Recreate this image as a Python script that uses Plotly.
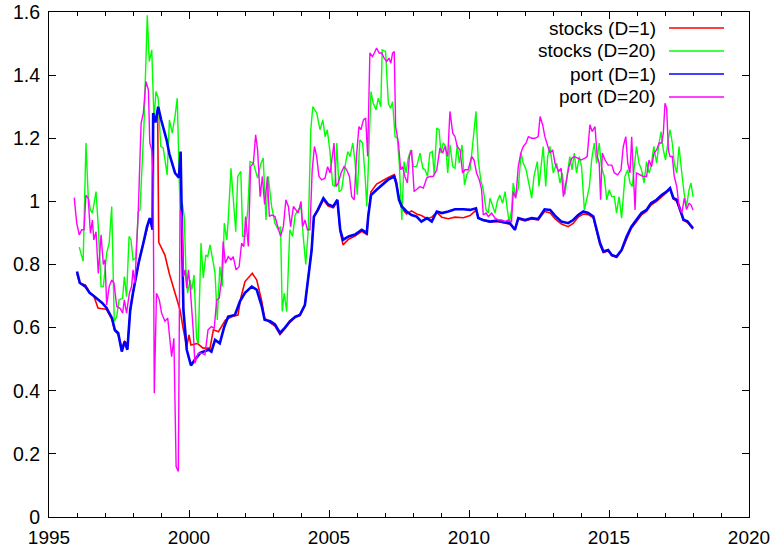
import plotly.graph_objects as go

# ---------------- data ----------------
stocks_d1_x = [1996.00, 1996.10, 1996.30, 1996.45, 1996.60, 1996.75, 1996.90, 1997.05, 1997.25, 1997.35,
               1997.47, 1997.60, 1997.70, 1997.80, 1997.90, 1998.00, 1998.20, 1998.37, 1998.50, 1998.60,
               1998.70, 1998.72, 1998.80, 1998.88, 1998.92, 1999.14, 1999.30, 1999.50, 1999.68, 1999.80,
               1999.92, 2000.00, 2000.07, 2000.30, 2000.50, 2000.75, 2000.87, 2001.05, 2001.30, 2001.55,
               2001.75, 2001.85, 2002.00, 2002.26, 2002.42, 2002.60, 2002.70, 2002.90, 2003.07, 2003.25,
               2003.43, 2003.60, 2003.80, 2003.96, 2004.14, 2004.26, 2004.38, 2004.46, 2004.60, 2004.80,
               2004.97, 2005.15, 2005.30, 2005.40, 2005.50, 2005.70, 2005.93, 2006.17, 2006.35, 2006.40,
               2006.50, 2006.70, 2006.88, 2007.10, 2007.33, 2007.40, 2007.50, 2007.60, 2007.77, 2007.95,
               2008.13, 2008.30, 2008.50, 2008.67, 2008.85, 2009.03, 2009.26, 2009.50, 2009.80, 2010.04,
               2010.25, 2010.33, 2010.50, 2010.75, 2011.00, 2011.22, 2011.46, 2011.64, 2011.76, 2012.00,
               2012.24, 2012.47, 2012.70, 2012.90, 2013.07, 2013.30, 2013.54, 2013.72, 2013.90, 2014.08,
               2014.26, 2014.44, 2014.56, 2014.68, 2014.80, 2014.97, 2015.10, 2015.27, 2015.45, 2015.63,
               2015.80, 2015.98, 2016.16, 2016.34, 2016.50, 2016.70, 2016.88, 2017.06, 2017.18, 2017.30,
               2017.42, 2017.54, 2017.66, 2017.80, 2017.90, 2018.00]
stocks_d1_y = [0.770, 0.740, 0.735, 0.712, 0.700, 0.662, 0.660, 0.658, 0.625, 0.590,
               0.578, 0.535, 0.556, 0.545, 0.650, 0.710, 0.805, 0.868, 0.920, 0.947,
               0.925, 1.270, 1.255, 1.280, 0.870, 0.830, 0.770, 0.710, 0.656, 0.593,
               0.540, 0.577, 0.545, 0.550, 0.535, 0.535, 0.593, 0.587, 0.624, 0.635,
               0.640, 0.694, 0.746, 0.772, 0.751, 0.683, 0.630, 0.615, 0.605, 0.578,
               0.596, 0.616, 0.632, 0.638, 0.670, 0.750, 0.846, 0.950, 0.970, 1.005,
               0.985, 0.980, 1.000, 0.905, 0.862, 0.880, 0.890, 0.905, 0.895, 0.955,
               1.030, 1.055, 1.065, 1.075, 1.085, 1.065, 1.010, 0.978, 0.960, 0.970,
               0.960, 0.955, 0.945, 0.950, 0.965, 0.950, 0.945, 0.950, 0.948, 0.955,
               0.972, 0.950, 0.940, 0.935, 0.936, 0.933, 0.928, 0.912, 0.944, 0.938,
               0.944, 0.941, 0.968, 0.963, 0.945, 0.928, 0.920, 0.930, 0.950, 0.960,
               0.958, 0.948, 0.905, 0.862, 0.838, 0.843, 0.828, 0.823, 0.843, 0.883,
               0.915, 0.935, 0.957, 0.968, 0.988, 1.000, 1.015, 1.027, 1.038, 1.008,
               1.000, 0.970, 0.940, 0.933, 0.922, 0.912]

stocks_d20_x = [1996.08, 1996.22, 1996.32, 1996.40, 1996.48, 1996.55, 1996.68, 1996.76, 1996.86, 1996.94,
                1997.06, 1997.15, 1997.24, 1997.33, 1997.42, 1997.50, 1997.63, 1997.69, 1997.77, 1997.86,
                1997.93, 1998.00, 1998.10, 1998.19, 1998.25, 1998.39, 1998.51, 1998.58, 1998.67, 1998.75,
                1998.82, 1998.90, 1998.99, 1999.08, 1999.22, 1999.30, 1999.40, 1999.50, 1999.58, 1999.68,
                1999.76, 1999.83, 1999.89, 1999.95, 2000.04, 2000.10, 2000.18, 2000.27, 2000.33, 2000.43,
                2000.51, 2000.60, 2000.67, 2000.75, 2000.87, 2000.93, 2001.01, 2001.10, 2001.19, 2001.26,
                2001.35, 2001.40, 2001.50, 2001.58, 2001.67, 2001.74, 2001.85, 2001.92, 2002.00, 2002.10,
                2002.18, 2002.30, 2002.45, 2002.57, 2002.65, 2002.75, 2002.83, 2002.95, 2003.07, 2003.19,
                2003.27, 2003.33, 2003.40, 2003.49, 2003.60, 2003.70, 2003.79, 2003.90, 2004.00, 2004.08,
                2004.17, 2004.26, 2004.35, 2004.42, 2004.56, 2004.68, 2004.78, 2004.86, 2004.94, 2005.04,
                2005.13, 2005.21, 2005.28, 2005.36, 2005.45, 2005.57, 2005.67, 2005.75, 2005.85, 2005.93,
                2006.01, 2006.10, 2006.20, 2006.29, 2006.35, 2006.40, 2006.50, 2006.58, 2006.68, 2006.76,
                2006.85, 2006.90, 2007.02, 2007.12, 2007.20, 2007.27, 2007.36, 2007.44, 2007.51, 2007.60,
                2007.68, 2007.75, 2007.83, 2007.92, 2008.01, 2008.13, 2008.25, 2008.35, 2008.43, 2008.52,
                2008.60, 2008.69, 2008.76, 2008.85, 2008.93, 2009.00, 2009.08, 2009.17, 2009.24, 2009.32,
                2009.42, 2009.50, 2009.58, 2009.65, 2009.75, 2009.84, 2009.94, 2010.04, 2010.13, 2010.25,
                2010.33, 2010.42, 2010.51, 2010.61, 2010.69, 2010.75, 2010.83, 2010.93, 2011.01, 2011.10,
                2011.20, 2011.29, 2011.37, 2011.44, 2011.52, 2011.58, 2011.67, 2011.76, 2011.86, 2011.94,
                2012.04, 2012.15, 2012.24, 2012.32, 2012.39, 2012.44, 2012.50, 2012.60, 2012.65, 2012.74,
                2012.81, 2012.89, 2013.01, 2013.13, 2013.25, 2013.33, 2013.43, 2013.50, 2013.60, 2013.68,
                2013.76, 2013.84, 2013.94, 2014.02, 2014.12, 2014.20, 2014.30, 2014.38, 2014.47, 2014.56,
                2014.65, 2014.73, 2014.83, 2014.92, 2015.01, 2015.10, 2015.19, 2015.27, 2015.36, 2015.45,
                2015.57, 2015.67, 2015.75, 2015.83, 2015.90, 2015.98, 2016.07, 2016.16, 2016.25, 2016.34,
                2016.43, 2016.50, 2016.60, 2016.70, 2016.79, 2016.86, 2016.94, 2017.02, 2017.10, 2017.18,
                2017.26, 2017.33, 2017.42, 2017.50, 2017.60, 2017.69, 2017.77, 2017.86, 2017.93, 2018.00]
stocks_d20_y = [0.855, 0.810, 1.185, 1.015, 0.973, 0.963, 1.031, 0.920, 0.730, 0.730,
                0.836, 0.868, 0.984, 0.620, 0.635, 0.688, 0.693, 0.762, 0.698, 0.889,
                0.878, 0.815, 0.820, 0.968, 0.973, 1.237, 1.590, 1.443, 1.480, 1.258,
                1.348, 1.327, 1.174, 1.169, 1.084, 1.258, 1.216, 1.269, 1.327, 0.973,
                0.994, 0.952, 0.783, 0.709, 0.751, 0.720, 0.767, 0.566, 0.550, 0.868,
                0.757, 0.830, 0.825, 0.862, 0.804, 0.772, 0.624, 0.793, 0.730, 0.931,
                0.878, 0.941, 1.105, 1.015, 0.904, 1.079, 1.095, 0.889, 0.889, 0.973,
                1.126, 1.121, 1.074, 1.121, 1.137, 0.941, 1.079, 0.984, 0.931, 0.910,
                0.920, 0.651, 0.709, 0.651, 0.910, 0.889, 0.957, 0.973, 0.984, 0.889,
                0.800, 0.910, 1.227, 1.300, 1.280, 1.227, 1.258, 1.205, 1.227, 1.153,
                1.052, 1.047, 1.185, 1.031, 1.037, 1.110, 1.158, 1.142, 1.185, 1.126,
                1.021, 1.195, 1.185, 1.079, 0.984, 1.100, 1.348, 1.311, 1.290, 1.327,
                1.300, 1.480, 1.475, 1.311, 1.295, 1.316, 1.205, 1.200, 1.121, 0.941,
                1.126, 1.090, 1.137, 1.163, 1.110, 1.110, 1.153, 1.105, 1.100, 1.079,
                1.153, 1.158, 1.084, 1.232, 1.227, 1.153, 1.185, 1.174, 1.090, 1.179,
                1.110, 1.105, 1.179, 1.121, 1.179, 1.052, 1.090, 1.100, 1.174, 1.285,
                1.131, 1.068, 1.037, 0.973, 0.963, 1.010, 0.990, 0.963, 1.000, 1.020,
                0.994, 1.031, 0.973, 0.931, 0.973, 1.058, 1.015, 1.042, 1.153, 1.121,
                1.100, 1.047, 1.010, 1.079, 1.110, 1.126, 1.047, 1.126, 1.174, 1.047,
                1.142, 1.174, 1.090, 1.121, 1.058, 1.090, 1.021, 1.079, 1.142, 1.100,
                1.153, 1.090, 1.142, 1.110, 0.973, 1.005, 1.047, 1.131, 1.185, 1.121,
                1.185, 1.110, 1.079, 1.005, 1.037, 1.015, 1.015, 0.963, 1.015, 0.947,
                1.079, 1.100, 1.058, 1.047, 1.100, 1.174, 1.121, 1.100, 1.058, 1.126,
                1.090, 1.110, 1.174, 1.121, 1.185, 1.221, 1.163, 1.131, 1.185, 1.227,
                1.185, 1.121, 1.090, 1.174, 1.090, 1.021, 0.984, 1.037, 1.058, 1.015]

port_d1_x = [1996.00, 1996.10, 1996.30, 1996.45, 1996.60, 1996.90, 1997.05, 1997.25, 1997.35, 1997.47,
             1997.60, 1997.70, 1997.80, 1997.90, 1998.00, 1998.20, 1998.37, 1998.50, 1998.60, 1998.70,
             1998.72, 1998.80, 1998.90, 1999.00, 1999.20, 1999.30, 1999.50, 1999.64, 1999.70, 1999.76,
             1999.80, 1999.92, 2000.07, 2000.20, 2000.40, 2000.70, 2000.80, 2000.93, 2001.10, 2001.26,
             2001.40, 2001.64, 2001.82, 2002.00, 2002.24, 2002.42, 2002.60, 2002.70, 2002.90, 2003.07,
             2003.25, 2003.43, 2003.60, 2003.80, 2003.96, 2004.14, 2004.26, 2004.38, 2004.46, 2004.60,
             2004.80, 2004.97, 2005.15, 2005.30, 2005.40, 2005.50, 2005.70, 2005.93, 2006.17, 2006.35,
             2006.40, 2006.50, 2006.70, 2006.88, 2007.10, 2007.33, 2007.40, 2007.50, 2007.60, 2007.77,
             2007.95, 2008.13, 2008.30, 2008.50, 2008.67, 2008.85, 2009.03, 2009.26, 2009.50, 2009.80,
             2010.04, 2010.25, 2010.33, 2010.50, 2010.75, 2011.00, 2011.22, 2011.46, 2011.64, 2011.76,
             2012.00, 2012.24, 2012.47, 2012.70, 2012.90, 2013.07, 2013.30, 2013.54, 2013.72, 2013.90,
             2014.08, 2014.26, 2014.44, 2014.56, 2014.68, 2014.80, 2014.97, 2015.10, 2015.27, 2015.45,
             2015.63, 2015.80, 2015.98, 2016.16, 2016.34, 2016.50, 2016.70, 2016.88, 2017.06, 2017.18,
             2017.30, 2017.42, 2017.54, 2017.66, 2017.80, 2017.90, 2018.00]
port_d1_y = [0.778, 0.742, 0.730, 0.710, 0.700, 0.678, 0.663, 0.630, 0.593, 0.583,
             0.524, 0.556, 0.530, 0.656, 0.710, 0.805, 0.868, 0.920, 0.947, 0.910,
             1.280, 1.250, 1.300, 1.260, 1.195, 1.150, 1.090, 1.075, 1.158, 0.868,
             0.656, 0.530, 0.480, 0.497, 0.520, 0.530, 0.524, 0.561, 0.550, 0.603,
             0.635, 0.640, 0.683, 0.710, 0.730, 0.720, 0.667, 0.625, 0.620, 0.610,
             0.583, 0.600, 0.620, 0.635, 0.640, 0.672, 0.751, 0.846, 0.952, 0.973,
             1.010, 0.990, 0.984, 1.005, 0.910, 0.878, 0.889, 0.895, 0.910, 0.900,
             0.952, 1.020, 1.037, 1.052, 1.068, 1.079, 1.058, 1.005, 0.984, 0.968,
             0.957, 0.952, 0.936, 0.947, 0.936, 0.968, 0.963, 0.968, 0.975, 0.975,
             0.973, 0.978, 0.947, 0.941, 0.936, 0.939, 0.936, 0.931, 0.910, 0.947,
             0.941, 0.947, 0.944, 0.975, 0.973, 0.955, 0.936, 0.931, 0.941, 0.957,
             0.968, 0.963, 0.952, 0.910, 0.868, 0.841, 0.846, 0.830, 0.825, 0.846,
             0.889, 0.920, 0.941, 0.963, 0.973, 0.994, 1.005, 1.020, 1.031, 1.042,
             1.010, 1.005, 0.974, 0.942, 0.937, 0.926, 0.915]

port_d20_x = [1995.90, 1995.99, 1996.08, 1996.17, 1996.25, 1996.32, 1996.40, 1996.48, 1996.55, 1996.60,
              1996.68, 1996.76, 1996.86, 1996.94, 1997.00, 1997.06, 1997.15, 1997.24, 1997.32, 1997.42,
              1997.54, 1997.63, 1997.69, 1997.77, 1997.87, 1997.95, 1998.00, 1998.07, 1998.19, 1998.29,
              1998.37, 1998.46, 1998.55, 1998.60, 1998.67, 1998.72, 1998.76, 1998.84, 1998.94, 1999.02,
              1999.14, 1999.24, 1999.38, 1999.46, 1999.54, 1999.62, 1999.68, 1999.74, 1999.80, 1999.86,
              1999.92, 1999.98, 2000.04, 2000.10, 2000.15, 2000.21, 2000.33, 2000.45, 2000.57, 2000.68,
              2000.80, 2000.90, 2000.99, 2001.08, 2001.17, 2001.22, 2001.30, 2001.40, 2001.50, 2001.58,
              2001.68, 2001.79, 2001.88, 2001.96, 2002.02, 2002.12, 2002.20, 2002.30, 2002.38, 2002.45,
              2002.54, 2002.62, 2002.70, 2002.74, 2002.80, 2002.87, 2002.95, 2003.07, 2003.19, 2003.27,
              2003.37, 2003.46, 2003.55, 2003.63, 2003.73, 2003.82, 2003.90, 2004.00, 2004.06, 2004.14,
              2004.23, 2004.32, 2004.40, 2004.48, 2004.56, 2004.64, 2004.74, 2004.86, 2004.95, 2005.04,
              2005.12, 2005.18, 2005.25, 2005.33, 2005.43, 2005.54, 2005.63, 2005.73, 2005.81, 2005.90,
              2005.99, 2006.07, 2006.14, 2006.23, 2006.31, 2006.38, 2006.46, 2006.55, 2006.62, 2006.70,
              2006.79, 2006.88, 2006.97, 2007.06, 2007.14, 2007.21, 2007.27, 2007.33, 2007.38, 2007.48,
              2007.56, 2007.63, 2007.71, 2007.80, 2007.87, 2007.95, 2008.04, 2008.13, 2008.25, 2008.37,
              2008.49, 2008.60, 2008.72, 2008.85, 2008.96, 2009.06, 2009.14, 2009.24, 2009.32, 2009.42,
              2009.50, 2009.58, 2009.68, 2009.77, 2009.86, 2009.97, 2010.10, 2010.18, 2010.27, 2010.37,
              2010.45, 2010.51, 2010.61, 2010.69, 2010.81, 2010.93, 2011.05, 2011.17, 2011.29, 2011.40,
              2011.52, 2011.58, 2011.67, 2011.76, 2011.85, 2011.94, 2012.04, 2012.12, 2012.24, 2012.36,
              2012.47, 2012.54, 2012.63, 2012.71, 2012.79, 2012.89, 2012.99, 2013.07, 2013.20, 2013.29,
              2013.37, 2013.49, 2013.57, 2013.67, 2013.76, 2013.88, 2014.00, 2014.14, 2014.22, 2014.32,
              2014.40, 2014.50, 2014.58, 2014.65, 2014.70, 2014.76, 2014.86, 2014.97, 2015.10, 2015.19,
              2015.31, 2015.43, 2015.51, 2015.60, 2015.67, 2015.75, 2015.81, 2015.87, 2015.93, 2015.98,
              2016.10, 2016.22, 2016.34, 2016.43, 2016.52, 2016.61, 2016.70, 2016.79, 2016.88, 2016.94,
              2017.00, 2017.06, 2017.12, 2017.18, 2017.26, 2017.33, 2017.42, 2017.50, 2017.60, 2017.69,
              2017.77, 2017.86, 2017.93, 2018.00]
port_d20_y = [1.012, 0.931, 0.894, 0.910, 0.910, 1.020, 1.010, 0.899, 0.941, 0.878,
              0.904, 0.772, 0.894, 0.800, 0.815, 0.672, 0.730, 0.751, 0.741, 0.667,
              0.661, 0.646, 0.688, 0.646, 0.709, 0.730, 0.783, 0.741, 0.973, 1.248,
              1.280, 1.380, 1.353, 1.185, 1.163, 1.079, 0.392, 0.709, 0.688, 0.646,
              0.620, 0.630, 0.508, 0.566, 0.160, 0.144, 0.973, 0.952, 0.762, 0.783,
              0.725, 0.783, 0.730, 0.656, 0.593, 0.487, 0.519, 0.519, 0.514, 0.593,
              0.603, 0.598, 0.688, 0.693, 0.762, 0.873, 0.804, 0.825, 0.815, 0.825,
              0.783, 0.793, 0.868, 0.857, 0.952, 0.857, 1.110, 1.121, 1.211, 1.163,
              1.015, 1.079, 0.990, 1.020, 1.079, 0.952, 0.957, 0.952, 0.915, 0.889,
              0.920, 1.005, 0.984, 0.920, 0.984, 0.973, 0.963, 1.000, 0.920, 0.941,
              0.910, 0.910, 1.100, 1.174, 1.142, 1.079, 1.068, 1.074, 1.110, 1.090,
              1.142, 1.185, 1.047, 1.058, 1.090, 1.110, 1.100, 1.079, 1.015, 1.005,
              1.153, 1.237, 1.227, 1.258, 1.264, 1.142, 1.470, 1.459, 1.470, 1.486,
              1.470, 1.470, 1.454, 1.443, 1.454, 1.438, 1.470, 1.475, 1.237, 1.185,
              1.100, 1.110, 1.079, 1.058, 1.142, 1.163, 1.031, 1.037, 1.047, 1.042,
              1.074, 1.079, 1.079, 1.100, 1.169, 1.153, 1.174, 1.142, 1.285, 1.216,
              1.205, 1.174, 1.163, 1.090, 1.100, 1.100, 1.142, 1.131, 1.090, 1.068,
              1.037, 0.957, 0.963, 0.952, 0.963, 0.947, 0.941, 0.941, 0.936, 0.941,
              0.936, 1.031, 1.010, 1.110, 1.153, 1.174, 1.185, 1.205, 1.200, 1.200,
              1.205, 1.269, 1.243, 1.205, 1.185, 1.153, 1.163, 1.121, 1.095, 1.105,
              1.015, 1.068, 1.110, 1.137, 1.142, 1.137, 1.131, 1.137, 1.142, 1.243,
              1.221, 1.237, 1.142, 1.121, 1.005, 1.153, 1.131, 1.115, 1.115, 1.090,
              1.084, 1.100, 1.174, 1.205, 1.121, 1.090, 1.205, 1.090, 0.973, 1.090,
              1.084, 1.079, 1.079, 1.131, 1.110, 1.153, 1.163, 1.185, 1.185, 1.216,
              1.311, 1.295, 1.163, 1.142, 1.142, 1.079, 1.047, 0.984, 0.963, 1.010,
              0.974, 0.994, 0.989, 0.973]

series_names = ["stocks (D=1)", "stocks (D=20)", "port (D=1)", "port (D=20)"]
series_colors = ["#ff0000", "#00ff00", "#0000ff", "#ff00ff"]
series_widths = [1.6, 1.4, 2.6, 1.4]

x_ticks = [1995, 2000, 2005, 2010, 2015, 2020]
y_ticks = [0, 0.2, 0.4, 0.6, 0.8, 1.0, 1.2, 1.4, 1.6]

# ---------------- figure ----------------
FONT = "Liberation Sans, Arial, Helvetica, sans-serif"
fig = go.Figure()
xs = [stocks_d1_x, stocks_d20_x, port_d1_x, port_d20_x]
ys = [stocks_d1_y, stocks_d20_y, port_d1_y, port_d20_y]
for x, y, n, c, w in zip(xs, ys, series_names, series_colors, series_widths):
    fig.add_trace(go.Scatter(x=x, y=y, mode="lines", name=n,
                             line=dict(color=c, width=w), showlegend=False))

# gnuplot-style key: right-aligned text followed by a line sample
key_rows_y = [0.9683, 0.9228, 0.8772, 0.8317]
for ky, n, c, w in zip(key_rows_y, series_names, series_colors, series_widths):
    fig.add_annotation(x=0.867, y=ky, xref="paper", yref="paper", text=n,
                       showarrow=False, xanchor="right", yanchor="middle", align="right",
                       borderpad=0, borderwidth=0,
                       font=dict(family=FONT, size=19, color="black"))
    fig.add_shape(type="line", xref="paper", yref="paper", x0=0.8857, x1=0.9643,
                  y0=ky, y1=ky, line=dict(color=c, width=min(w, 1.6)))

axis_common = dict(showgrid=False, zeroline=False, showline=True, linecolor="black",
                   linewidth=1, mirror="allticks", ticks="inside", tickcolor="black",
                   automargin=False)
fig.update_xaxes(range=[1995, 2020], tickvals=x_ticks, ticktext=[str(v) for v in x_ticks],
                 ticklen=7, tickwidth=1,
                 minor=dict(dtick=1, ticks="inside", ticklen=4, tickcolor="black"),
                 ticklabelstandoff=3,
                 tickfont=dict(family=FONT, size=19, color="black"), **axis_common)
fig.update_yaxes(range=[0, 1.6], tickvals=y_ticks,
                 ticktext=["0", "0.2", "0.4", "0.6", "0.8", "1", "1.2", "1.4", "1.6"],
                 ticklen=7, tickwidth=1, ticklabelstandoff=4,
                 tickfont=dict(family=FONT, size=19.5, color="black"), **axis_common)

fig.update_layout(width=772, height=550, margin=dict(l=49, r=23, t=12, b=33),
                  plot_bgcolor="white", paper_bgcolor="white",
                  font=dict(family=FONT, size=20, color="black"))
fig.write_html("out.html")
